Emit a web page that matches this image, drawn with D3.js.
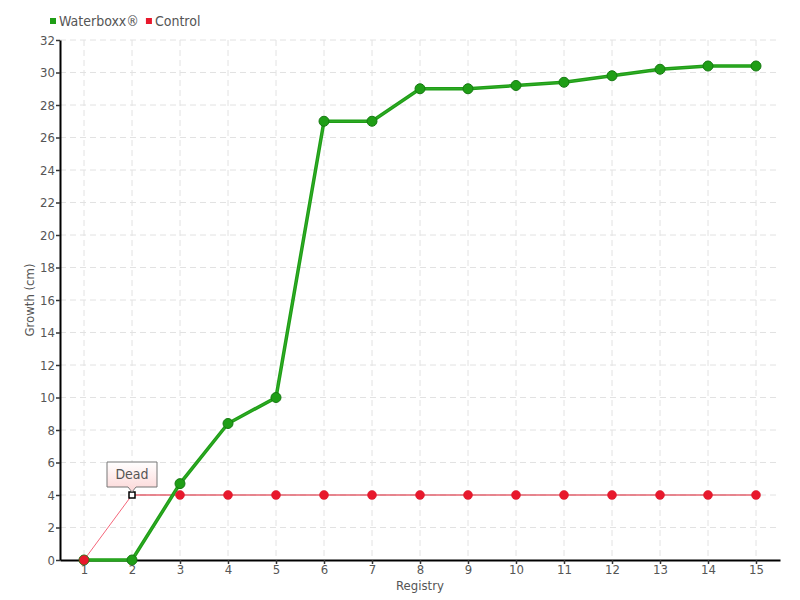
<!DOCTYPE html>
<html>
<head>
<meta charset="utf-8">
<script src="https://cdn.jsdelivr.net/npm/d3@7"></script>
<style>
  body { margin: 0; background: #fff; }
  text { font-family: "DejaVu Sans Condensed", "DejaVu Sans", sans-serif; font-stretch: condensed; fill: #555; }
</style>
</head>
<body>
<svg id="chart" width="800" height="600"></svg>
<script>
// data
let registry = [1, 2, 3, 4, 5, 6, 7, 8, 9, 10, 11, 12, 13, 14, 15]
let waterboxx = [0, 0, 4.7, 8.4, 10, 27, 27, 29, 29, 29.2, 29.4, 29.8, 30.2, 30.4, 30.4]
let control = [0, 4, 4, 4, 4, 4, 4, 4, 4, 4, 4, 4, 4, 4, 4]
let yTicks = d3.range(0, 33, 2)

let svg = d3.select("#chart")
let margin = { top: 40, right: 20, bottom: 40, left: 60 }
let w = 800 - margin.left - margin.right
let h = 600 - margin.top - margin.bottom

let g = svg.append("g").attr("transform", "translate(" + margin.left + "," + margin.top + ")")

let x = d3.scaleLinear().domain([0.5, 15.5]).range([0, w])
let y = d3.scaleLinear().domain([0, 32]).range([h, 0])

// grid
g.append("g").selectAll("line").data(yTicks.slice(1)).enter().append("line")
  .attr("x1", 0).attr("x2", w)
  .attr("y1", d => y(d)).attr("y2", d => y(d))
  .attr("stroke", "#e2e2e2").attr("stroke-dasharray", "6,4")
g.append("g").selectAll("line").data(registry).enter().append("line")
  .attr("x1", d => x(d)).attr("x2", d => x(d))
  .attr("y1", 0).attr("y2", h)
  .attr("stroke", "#e2e2e2").attr("stroke-dasharray", "6,4")

// axes
let xAxis = g.append("g").attr("transform", "translate(0," + h + ")")
  .call(d3.axisBottom(x).tickValues(registry).tickSize(4).tickSizeOuter(0))
let yAxis = g.append("g")
  .call(d3.axisLeft(y).tickValues(yTicks).tickSize(4).tickSizeOuter(0))
xAxis.select(".domain").attr("stroke", "#000").attr("stroke-width", 2)
yAxis.select(".domain").attr("stroke", "#000").attr("stroke-width", 2)
xAxis.selectAll(".tick line").attr("stroke", "#333").attr("stroke-width", 1.5)
yAxis.selectAll(".tick line").attr("stroke", "#333").attr("stroke-width", 1.5)
xAxis.selectAll("text").style("font-size", "13px").style("fill", "#555").attr("y", 5).attr("dy", "0.71em")
  .attr("font-family", null)
yAxis.selectAll("text").style("font-size", "13px").style("fill", "#555").attr("x", -5)
  .attr("font-family", null)

// axis titles
g.append("text").attr("x", w / 2).attr("y", h + 30).attr("text-anchor", "middle")
  .style("font-size", "13px").text("Registry")
g.append("text").attr("transform", "translate(-26," + (h / 2) + ") rotate(-90)")
  .attr("text-anchor", "middle").style("font-size", "13px").text("Growth (cm)")

// control line
let ctrl = registry.map((r, i) => [r, control[i]])
g.append("line")
  .attr("x1", x(ctrl[0][0])).attr("y1", y(ctrl[0][1]))
  .attr("x2", x(ctrl[1][0])).attr("y2", y(ctrl[1][1]))
  .attr("stroke", "#f4667a").attr("stroke-width", 1)
g.append("path").datum(ctrl.slice(1))
  .attr("fill", "none").attr("stroke", "#d9192b").attr("stroke-width", 1.2)
  .attr("d", d3.line().x(d => x(d[0])).y(d => y(d[1])))

// waterboxx line
let wb = registry.map((r, i) => [r, waterboxx[i]])
g.append("path").datum(wb)
  .attr("fill", "none").attr("stroke", "#1f9e16").attr("stroke-width", 3.5)
  .attr("d", d3.line().x(d => x(d[0])).y(d => y(d[1])))
g.append("path").datum(wb)
  .attr("fill", "none").attr("stroke", "#3fb836").attr("stroke-width", 1).attr("opacity", 0.6)
  .attr("d", d3.line().x(d => x(d[0])).y(d => y(d[1])))
g.append("g").selectAll("circle").data(wb).enter().append("circle")
  .attr("cx", d => x(d[0])).attr("cy", d => y(d[1])).attr("r", 5)
  .attr("fill", "#1f9e16").attr("stroke", "#167a12").attr("stroke-width", 1)

// control points
g.append("g").selectAll("circle").data(ctrl.filter((d, i) => i !== 1)).enter().append("circle")
  .attr("cx", d => x(d[0])).attr("cy", d => y(d[1])).attr("r", 4.5)
  .attr("fill", "#e8182c").attr("stroke", "#d8192c").attr("stroke-width", 0.5)
g.append("rect")
  .attr("x", x(ctrl[1][0]) - 3).attr("y", y(ctrl[1][1]) - 3)
  .attr("width", 6).attr("height", 6)
  .attr("fill", "#fff").attr("stroke", "#000").attr("stroke-width", 1.5)

// "Dead" annotation
let defs = svg.append("defs")
let grad = defs.append("linearGradient").attr("id", "pink").attr("x1", 0).attr("x2", 0).attr("y1", 0).attr("y2", 1)
grad.append("stop").attr("offset", "0%").attr("stop-color", "#fff")
grad.append("stop").attr("offset", "100%").attr("stop-color", "#fcd6d6")
let ax = x(2), ay = y(4)
g.append("path")
  .attr("d", "M" + (ax - 25) + "," + (ay - 33) + "h50v25h-21l-4,5l-4,-5h-21z")
  .attr("fill", "url(#pink)").attr("stroke", "#777").attr("stroke-width", 1)
g.append("text").attr("x", ax).attr("y", ay - 16).attr("text-anchor", "middle")
  .style("font-size", "14px").text("Dead")

// legend
let legend = [["Waterboxx®", "#1f9e16"], ["Control", "#e8182c"]]
let lx = 50
legend.forEach(function (d) {
  svg.append("rect").attr("x", lx).attr("y", 18).attr("width", 6).attr("height", 6).attr("fill", d[1])
  let t = svg.append("text").attr("x", lx + 9).attr("y", 26).style("font-size", "14px").text(d[0])
  lx += 9 + t.node().getComputedTextLength() + 7
})
</script>
</body>
</html>
